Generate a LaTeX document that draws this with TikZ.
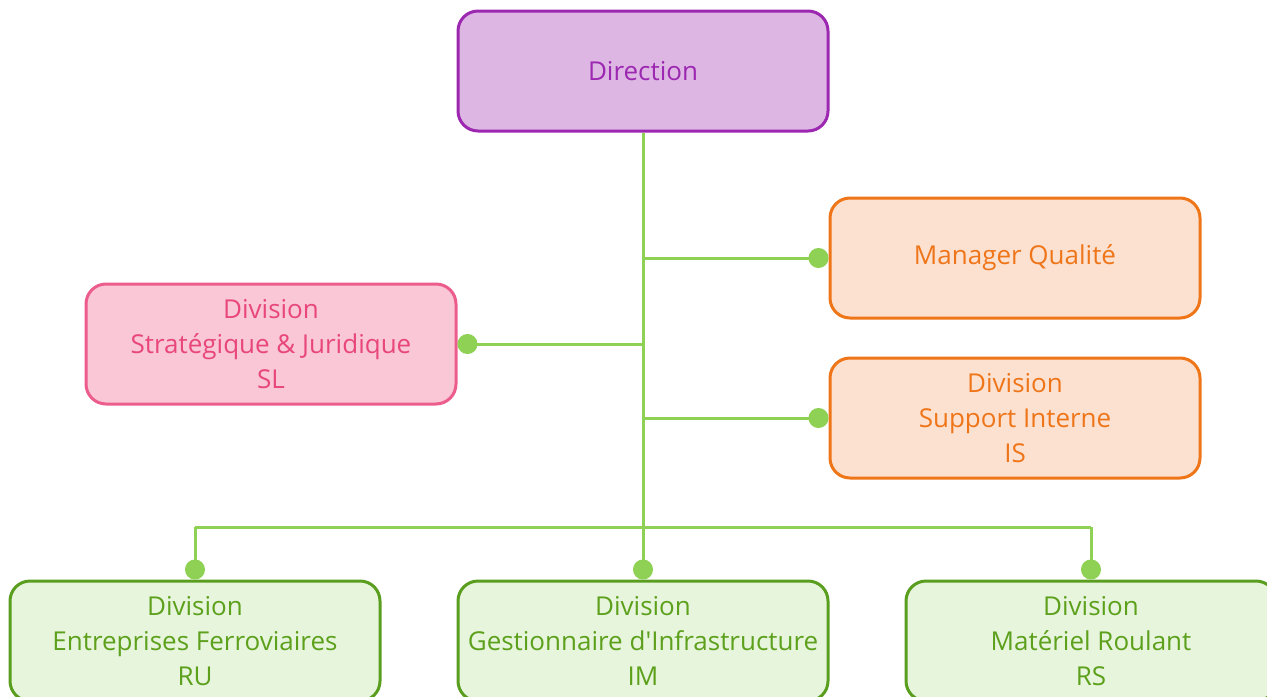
\documentclass[tikz,border=0pt]{standalone}
\usepackage{fontspec}
\setmainfont{Open Sans}
\usetikzlibrary{positioning}
\usetikzlibrary{arrows.meta}

\definecolor{dirfill}{HTML}{DDB6E4}
\definecolor{dirline}{HTML}{9C27B0}
\definecolor{slfill}{HTML}{F9C7D6}
\definecolor{slline}{HTML}{EC5C8C}
\definecolor{sltext}{HTML}{E8467C}
\definecolor{orfill}{HTML}{FCE1D1}
\definecolor{orline}{HTML}{EF7519}
\definecolor{grfill}{HTML}{E8F5DD}
\definecolor{grline}{HTML}{5A9E1F}
\definecolor{grtext}{HTML}{5CA01C}
\definecolor{linkgreen}{HTML}{8ED154}

\begin{document}
\begin{tikzpicture}[x=0.75pt,y=-0.75pt,
  box/.style={rectangle, rounded corners=15pt, line width=2.25pt,
    minimum width=277.5pt, minimum height=90pt, inner sep=0pt,
    align=center, font=\fontsize{19.5}{26.25}\selectfont},
  purplebox/.style={box, draw=dirline, fill=dirfill, text=dirline},
  pinkbox/.style={box, draw=slline, fill=slfill, text=sltext},
  orangebox/.style={box, draw=orline, fill=orfill, text=orline},
  greenbox/.style={box, draw=grline, fill=grfill, text=grtext},
  link/.style={draw=linkgreen, line width=2.25pt},
  dotlink/.style={link, -{Circle[length=15pt,width=15pt]}}]

  \clip (0,0) rectangle (1267,696);

  % Nodes
  \node[purplebox] (dir) at (643,71) {Direction};
  \node[orangebox] (mq) at (1015,258) {Manager Qualité};
  \node[pinkbox] (sl) at (271,344) {Division\\Stratégique \& Juridique\\SL};
  \node[orangebox] (is) at (1015,418) {Division\\Support Interne\\IS};
  \node[greenbox] (ru) at (195,641) {Division\\Entreprises Ferroviaires\\RU};
  \node[greenbox] (im) at (643,641) {Division\\Gestionnaire d\textquotesingle Infrastructure\\IM};
  \node[greenbox] (rs) at (1091,641) {Division\\Matériel Roulant\\RS};
  \coordinate (bus) at (643,527);

  % Lines
  \draw[dotlink] (dir.south) -- (im.north);
  \draw[dotlink] (dir.south |- mq) -- (mq.west);
  \draw[dotlink] (dir.south |- sl) -- (sl.east);
  \draw[dotlink] (dir.south |- is) -- (is.west);
  \draw[link] (bus -| ru) -- (bus -| rs);
  \draw[dotlink] (bus -| ru) -- (ru.north);
  \draw[dotlink] (bus -| rs) -- (rs.north);
\end{tikzpicture}
\end{document}
